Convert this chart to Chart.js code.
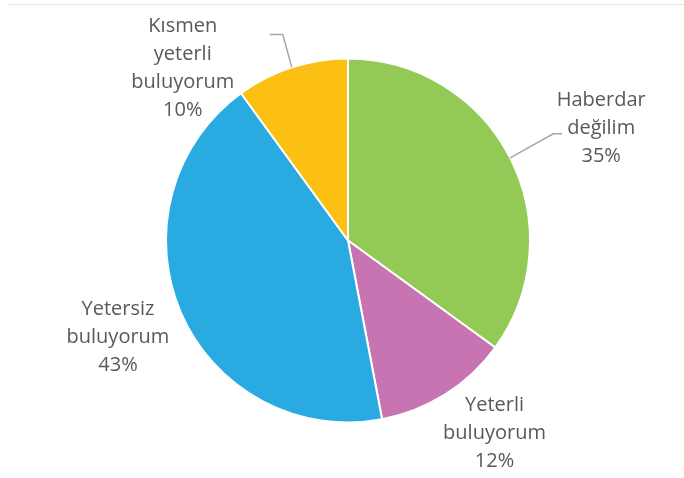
<!DOCTYPE html>
<html>
<head>
<meta charset="utf-8">
<script src="https://cdn.jsdelivr.net/npm/chart.js@4/dist/chart.umd.min.js"></script>
<style>
  html, body { margin: 0; padding: 0; background: #fff; }
  #wrap { position: relative; width: 684px; height: 478px; }
  #topLine { position: absolute; left: 7px; right: 0; top: 4px; border-top: 1px solid #e4e4e4; }
  canvas { position: absolute; left: 0; top: 0; }
</style>
</head>
<body>
<div id="wrap">
  <div id="topLine"></div>
  <canvas id="pieChart" width="684" height="478"></canvas>
</div>
<script>
// Data
const labels = [['Haberdar', 'değilim'], ['Yeterli', 'buluyorum'], ['Yetersiz', 'buluyorum'], ['Kısmen', 'yeterli', 'buluyorum']];
const values = [35, 12, 43, 10];
const colors = ['#92CA55', '#C874B2', '#29ABE2', '#FCBF14'];

// Label placement (offset from the slice's outer mid point) and leader lines
const labelOffsets = [[91, -30], [49, 39], [-63, 25], [-109, 1]];
const leaders = [[[43, -24], [52, -24]], null, null, [[-9, -33], [-22, -33]]];

const outsideLabels = {
    id: 'outsideLabels',
    afterDatasetsDraw(chart) {
        const ctx = chart.ctx;
        const arcs = chart.getDatasetMeta(0).data;
        ctx.save();
        ctx.font = '20px "Open Sans"';
        ctx.fillStyle = '#595959';
        ctx.textAlign = 'center';
        ctx.textBaseline = 'middle';
        arcs.forEach((arc, i) => {
            const mid = (arc.startAngle + arc.endAngle) / 2;
            const ex = arc.x + Math.cos(mid) * arc.outerRadius;
            const ey = arc.y + Math.sin(mid) * arc.outerRadius;

            if (leaders[i]) {
                ctx.beginPath();
                ctx.strokeStyle = '#A6A6A6';
                ctx.lineWidth = 1.5;
                ctx.moveTo(ex, ey);
                leaders[i].forEach(p => ctx.lineTo(ex + p[0], ey + p[1]));
                ctx.stroke();
            }

            const lines = labels[i].concat([values[i] + '%']);
            const lineH = 28;
            const cx = ex + labelOffsets[i][0];
            const cy = ey + labelOffsets[i][1];
            const y0 = cy - (lines.length - 1) * lineH / 2;
            lines.forEach((t, k) => ctx.fillText(t, cx, y0 + k * lineH));
        });
        ctx.restore();
    }
};

new Chart(document.getElementById('pieChart'), {
    type: 'pie',
    data: {
        labels: labels.map(l => l.join(' ')),
        datasets: [{
            data: values,
            backgroundColor: colors,
            borderColor: '#ffffff',
            borderWidth: 2
        }]
    },
    options: {
        responsive: false,
        devicePixelRatio: 1,
        animation: false,
        layout: { padding: { left: 165, right: 153, top: 57, bottom: 54 } },
        plugins: {
            legend: { display: false },
            tooltip: { enabled: false }
        }
    },
    plugins: [outsideLabels]
});
</script>
</body>
</html>
